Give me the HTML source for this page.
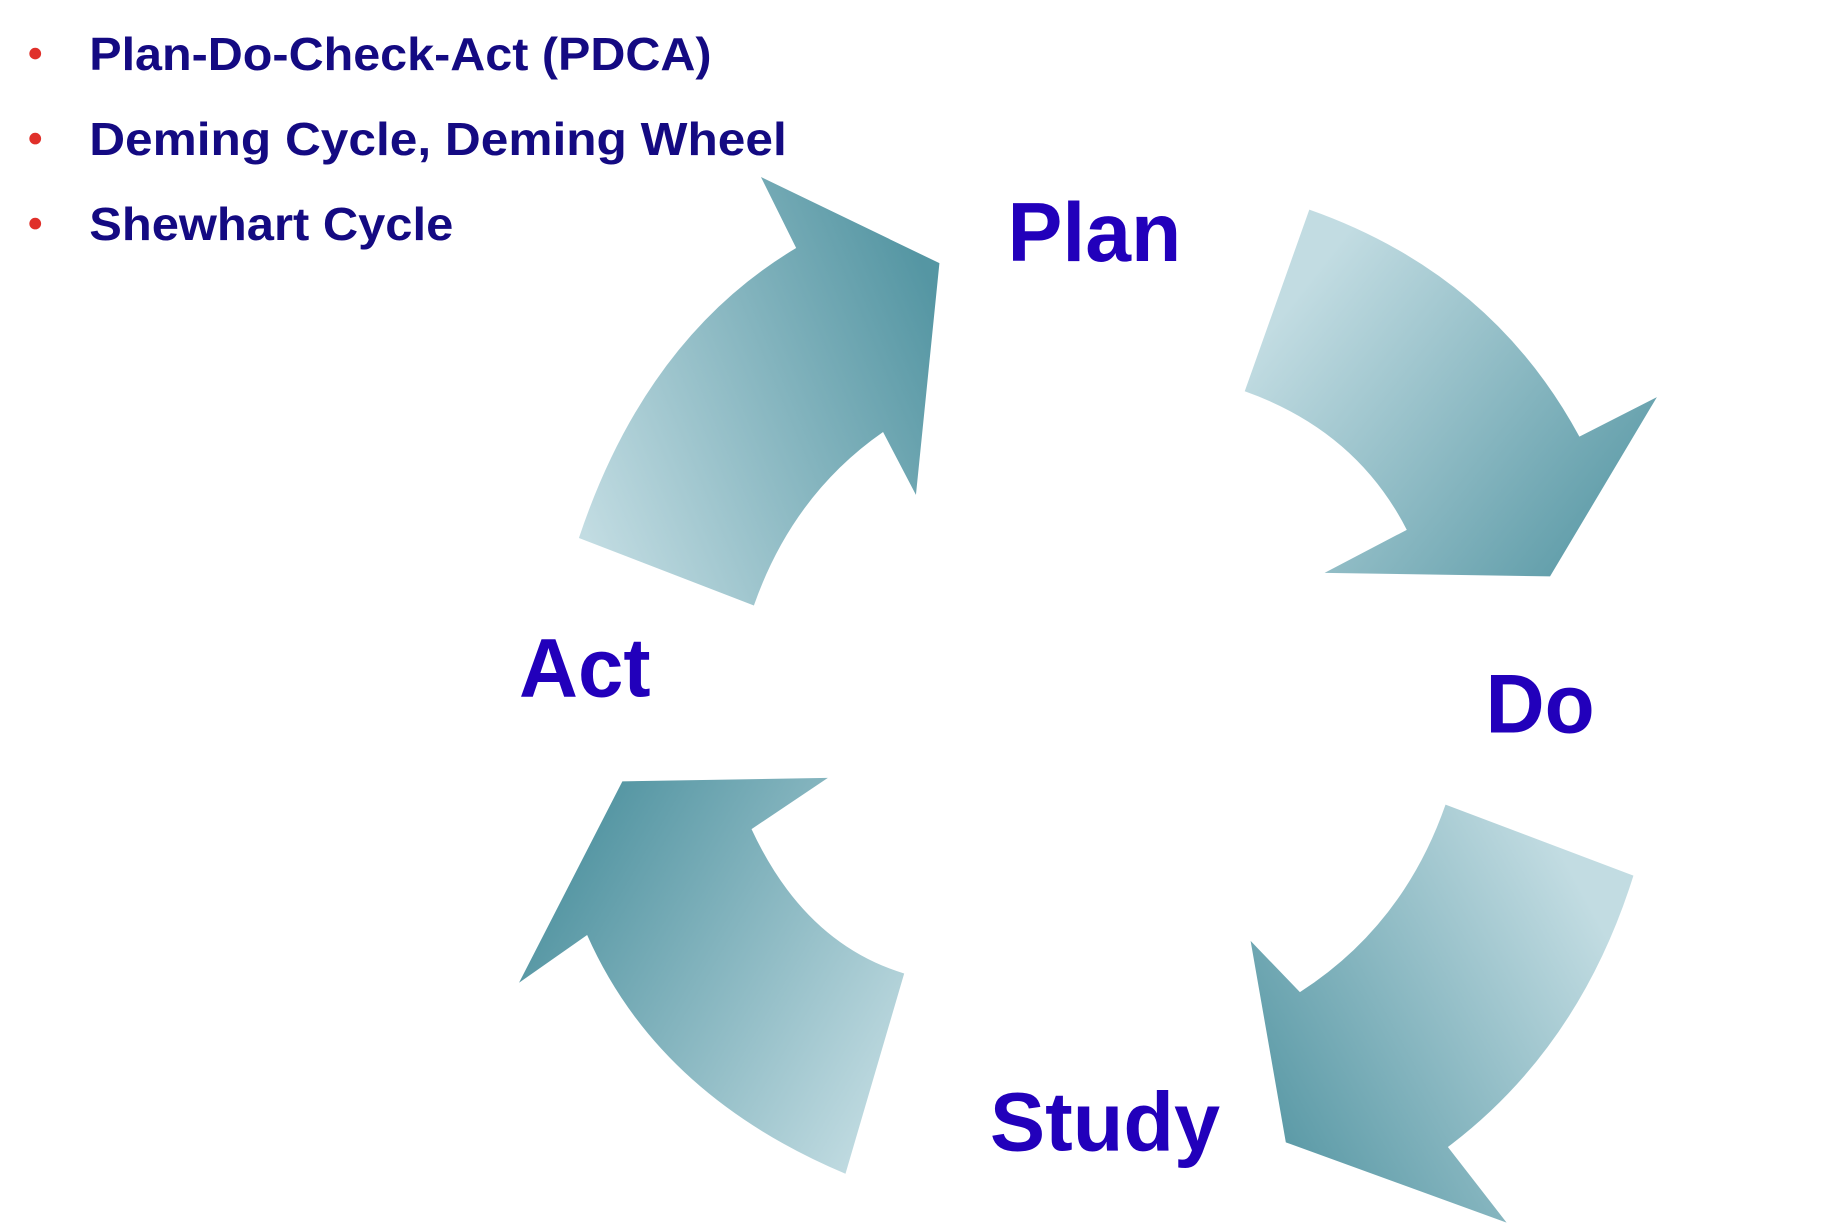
<!DOCTYPE html>
<html><head><meta charset="utf-8"><style>
html,body{margin:0;padding:0;background:#fff;}
svg{display:block}
</style></head><body>
<svg width="1826" height="1232" viewBox="0 0 1555 1058" preserveAspectRatio="none" xmlns="http://www.w3.org/2000/svg">
<defs>
<linearGradient id="g1" x1="1" y1="0.3" x2="0" y2="0.8"><stop offset="0" stop-color="#5596a3"/><stop offset="1" stop-color="#c2dce2"/></linearGradient>
<linearGradient id="g2" x1="0" y1="0.2" x2="1" y2="0.9"><stop offset="0.1" stop-color="#c2dce2"/><stop offset="1" stop-color="#5596a3"/></linearGradient>
<linearGradient id="g3" x1="1" y1="0.2" x2="0" y2="0.8"><stop offset="0.1" stop-color="#c2dce2"/><stop offset="1" stop-color="#5596a3"/></linearGradient>
<linearGradient id="g4" x1="0" y1="0.2" x2="1" y2="0.8"><stop offset="0.1" stop-color="#5596a3"/><stop offset="1" stop-color="#c2dce2"/></linearGradient>
</defs>
<g font-family="Liberation Sans, sans-serif" font-weight="bold" fill="#140a82" font-size="40">
<circle cx="30" cy="46" r="5" fill="#e0302a"/><circle cx="30" cy="119" r="5" fill="#e0302a"/><circle cx="30" cy="192" r="5" fill="#e0302a"/>
<text x="76" y="60" textLength="530" lengthAdjust="spacingAndGlyphs">Plan-Do-Check-Act (PDCA)</text>
<text x="76" y="133" textLength="594" lengthAdjust="spacingAndGlyphs">Deming Cycle, Deming Wheel</text>
<text x="76" y="206" textLength="310" lengthAdjust="spacingAndGlyphs">Shewhart Cycle</text>
</g>
<path fill="url(#g1)" d="M648,152 L800,226 L780,425 L752,371 Q675,425 642,520 L493,462 Q550,290 678,213 Z"/>
<path fill="url(#g2)" d="M1115,180 Q1270,235 1345,375 L1411,341 L1320,495 L1128,492 L1198,455 Q1155,370 1060,336 Z"/>
<path fill="url(#g3)" d="M1231,691 L1391,752 Q1345,900 1233,985 L1283,1050 L1095,981 L1065,808 L1107,852 Q1195,795 1231,691 Z"/>
<path fill="url(#g4)" d="M530,671 L705,668 L640,712 Q685,810 770,836 L720,1008 Q560,940 500,803 L442,844 Z"/>
<g font-family="Liberation Sans, sans-serif" font-weight="bold" fill="#2200bb" font-size="72">
<text x="858" y="224" textLength="148" lengthAdjust="spacingAndGlyphs">Plan</text>
<text x="1265" y="629" textLength="93" lengthAdjust="spacingAndGlyphs">Do</text>
<text x="442" y="598" textLength="112" lengthAdjust="spacingAndGlyphs">Act</text>
<text x="843" y="988" textLength="196" lengthAdjust="spacingAndGlyphs">Study</text>
</g>
</svg>
</body></html>
